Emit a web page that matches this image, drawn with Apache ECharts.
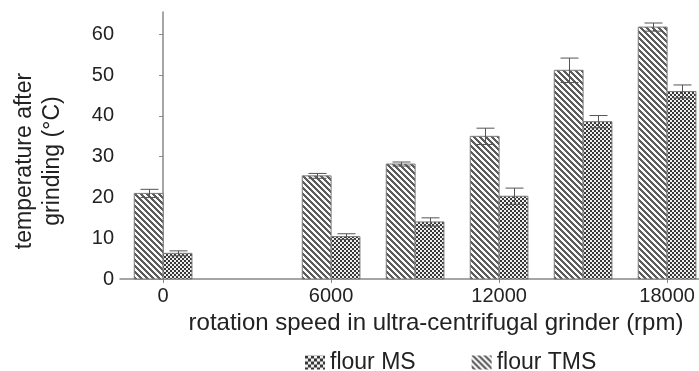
<!DOCTYPE html>
<html>
<head>
<meta charset="utf-8">
<script src="https://cdn.jsdelivr.net/npm/echarts@6/dist/echarts.min.js"></script>
<style>
  html, body { margin: 0; padding: 0; background: #fff; }
  #chart { width: 699px; height: 371px; }
</style>
</head>
<body>
<div id="chart"></div>
<script>
// rotation speed (rpm)
const speeds = [0, 6000, 9000, 12000, 15000, 18000];
// flour TMS (hatched)
const tmsMean = [21.0, 25.3, 28.2, 35.0, 51.2, 61.8];
const tmsErr = [1.0, 0.6, 0.5, 2.0, 3.0, 1.0];
// flour MS (checkered)
const msMean = [6.3, 10.4, 14.0, 20.3, 38.6, 46.0];
const msErr = [0.6, 0.7, 1.0, 2.0, 1.5, 1.6];
// axis ticks
const xTicks = [0, 6000, 12000, 18000];
const yTicks = [0, 10, 20, 30, 40, 50, 60];

const FONT = "'Liberation Sans', Arial, sans-serif";

// pattern tiles
function makeTile(size, isDark, dark, light) {
  const c = document.createElement('canvas');
  c.width = size; c.height = size;
  const ctx = c.getContext('2d');
  for (let y = 0; y < size; y++) {
    for (let x = 0; x < size; x++) {
      ctx.fillStyle = isDark(x, y) ? dark : light;
      ctx.fillRect(x, y, 1, 1);
    }
  }
  return c;
}
const checker = cell => (x, y) => ((Math.floor(x / cell) + Math.floor(y / cell)) % 2) === 0;
const hatchTile = makeTile(6, (x, y) => ((x - y + 12) % 6) < 3, '#5c5c5c', '#fafafa');
const checkTile = makeTile(4, checker(2), '#383838', '#efefef');
const legendCheckTile = makeTile(6, checker(3), '#383838', '#efefef');
const hatchFill = { image: hatchTile, repeat: 'repeat' };
const checkFill = { image: checkTile, repeat: 'repeat' };
const legendCheckFill = { image: legendCheckTile, repeat: 'repeat' };

const halfBar = 1030; // bar width in rpm units

function barRenderer(fill, from, to) {
  return function (params, api) {
    const x = api.value(0), y = api.value(1);
    const p0 = api.coord([x + from, 0]);
    const p1 = api.coord([x + to, y]);
    return {
      type: 'rect',
      shape: { x: p0[0], y: p1[1], width: p1[0] - p0[0], height: p0[1] - p1[1] },
      style: { fill: fill, stroke: '#7a7a7a', lineWidth: 1 }
    };
  };
}

function errRenderer(center) {
  return function (params, api) {
    const x = api.value(0), y = api.value(1), e = api.value(2);
    const top = api.coord([x + center, y + e]);
    const bot = api.coord([x + center, y - e]);
    const cx = Math.round(top[0]) + 0.5;
    const cap = 9;
    const st = { stroke: '#555', lineWidth: 1 };
    return {
      type: 'group',
      children: [
        { type: 'line', shape: { x1: cx, y1: top[1], x2: cx, y2: bot[1] }, style: st },
        { type: 'line', shape: { x1: cx - cap, y1: top[1], x2: cx + cap, y2: top[1] }, style: st },
        { type: 'line', shape: { x1: cx - cap, y1: bot[1], x2: cx + cap, y2: bot[1] }, style: st }
      ]
    };
  };
}

const tmsData = speeds.map((s, i) => [s, tmsMean[i], tmsErr[i]]);
const msData = speeds.map((s, i) => [s, msMean[i], msErr[i]]);

const chart = echarts.init(document.getElementById('chart'));
chart.setOption({
  animation: false,
  backgroundColor: '#fff',
  grid: { left: 120, right: 0, top: 12, bottom: 92 },
  xAxis: {
    type: 'value',
    min: -1540,
    max: 19140,
    splitLine: { show: false },
    axisLine: { lineStyle: { color: '#888', width: 1.5 } },
    axisTick: { show: true, length: 4, lineStyle: { color: '#888' }, customValues: xTicks },
    axisLabel: {
      customValues: xTicks, color: '#222', fontSize: 20, fontFamily: FONT, margin: 7,
      formatter: v => String(v)
    }
  },
  yAxis: {
    type: 'value',
    min: 0,
    max: 65.5,
    splitLine: { show: false },
    axisLine: { show: true, lineStyle: { color: '#888', width: 1.5 } },
    axisTick: { show: true, length: 4, lineStyle: { color: '#888' }, customValues: yTicks },
    axisLabel: { customValues: yTicks, color: '#222', fontSize: 20, fontFamily: FONT, margin: 6 }
  },
  legend: {
    left: 300,
    top: 346,
    itemWidth: 20,
    itemHeight: 14,
    itemGap: 56,
    icon: 'rect',
    textStyle: { color: '#222', fontSize: 23, fontFamily: FONT },
    data: [
      { name: 'flour MS', itemStyle: { color: legendCheckFill } },
      { name: 'flour TMS', itemStyle: { color: hatchFill } }
    ]
  },
  graphic: [
    {
      type: 'text',
      x: 39,
      y: 161,
      rotation: Math.PI / 2,
      style: {
        text: 'temperature after\ngrinding (°C)',
        font: '23px ' + FONT,
        fill: '#222',
        align: 'center',
        verticalAlign: 'middle',
        lineHeight: 28
      }
    },
    {
      type: 'text',
      x: 436,
      y: 323,
      style: {
        text: 'rotation speed in ultra-centrifugal grinder (rpm)',
        font: '24px ' + FONT,
        fill: '#222',
        align: 'center',
        verticalAlign: 'middle'
      }
    }
  ],
  series: [
    {
      name: 'flour TMS',
      type: 'custom',
      itemStyle: { color: hatchFill },
      renderItem: barRenderer(hatchFill, -halfBar, 0),
      data: tmsData,
      z: 2
    },
    {
      name: 'flour MS',
      type: 'custom',
      itemStyle: { color: checkFill },
      renderItem: barRenderer(checkFill, 0, halfBar),
      data: msData,
      z: 2
    },
    {
      name: 'flour TMS',
      type: 'custom',
      renderItem: errRenderer(-halfBar / 2),
      data: tmsData,
      z: 3
    },
    {
      name: 'flour MS',
      type: 'custom',
      renderItem: errRenderer(halfBar / 2),
      data: msData,
      z: 3
    }
  ]
});
</script>
</body>
</html>
